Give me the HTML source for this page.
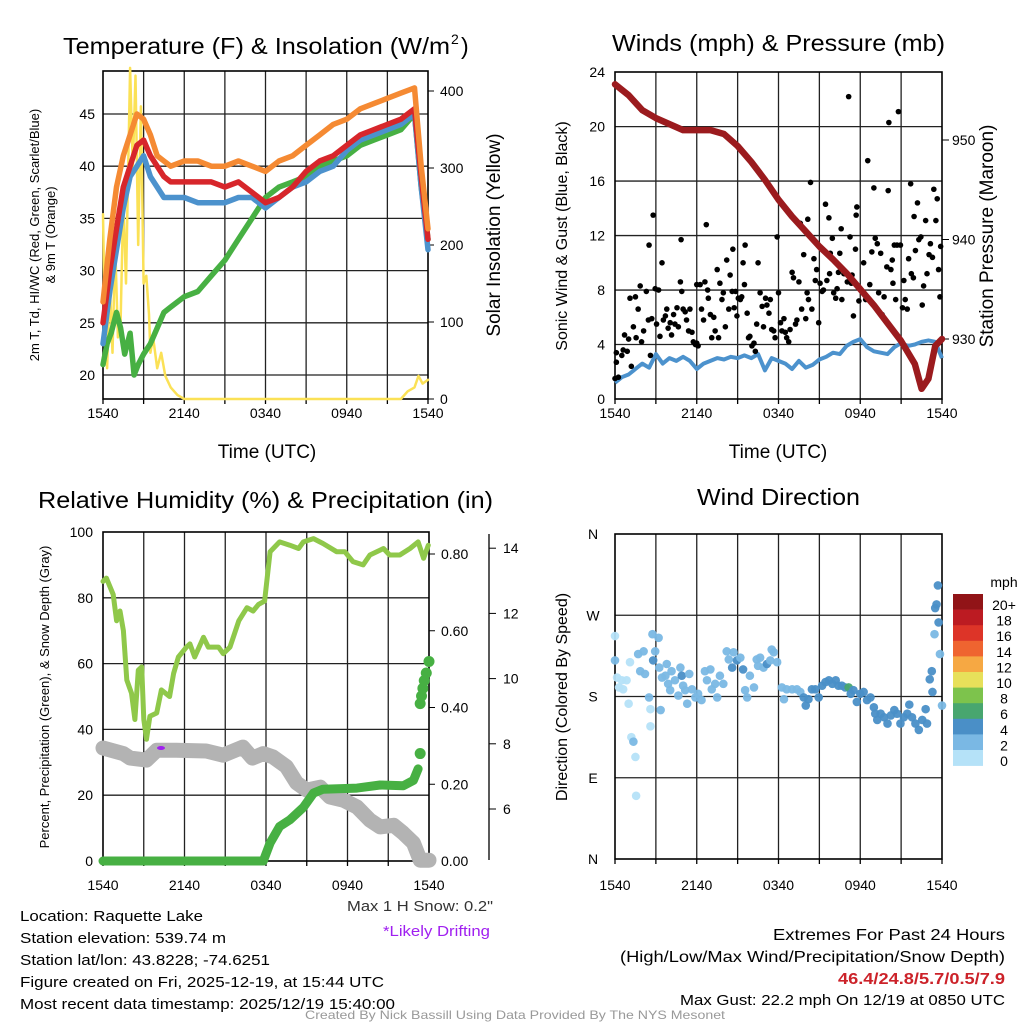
<!DOCTYPE html>
<html><head><meta charset="utf-8"><style>
html,body{margin:0;padding:0;background:#fff}
svg{display:block;font-family:"Liberation Sans",Arial,sans-serif}
</style></head><body>
<svg id="chart" width="1024" height="1024" viewBox="0 0 1024 1024" xmlns="http://www.w3.org/2000/svg"></svg>
<script>
// ---------- DATA ----------
const timeTickLabels = ["1540","2140","0340","0940","1540"];
const timeTickHours = [0,6,12,18,24];
// Panel 1: temperatures (F) & solar
const tempHours = [0,0.5,1,1.5,2,2.5,3,3.5,4,4.5,5,6,7,8,9,10,11,12,13,14,15,16,17,18,19,20,21,22,23,23.5,24];
const orangeT = [27,33,38,41,43,45,44.5,43,41,40.5,40,40.5,40.5,40,40,40.5,40,39.5,40.5,41,42,43,44,44.5,45.5,46,46.5,47,47.5,40,34];
const redT = [25,30,34,38,40,42,42.5,41,40,39,38.5,38.5,38.5,38.5,38,38.5,37.5,36.5,37,38,39.5,40.5,41,42,43,43.5,44,44.5,45.5,39,33];
const blueT = [23,28,32,36,39,40,41,39,38,37,37,37,36.5,36.5,36.5,37,37,36,37,38,38.5,39.5,40,41.5,42.5,43,43.5,44,45,38,32];
const dewHours = [0,0.3,0.6,1,1.3,1.6,2,2.3,2.6,3,3.5,4,4.5,5,6,7,8,9,10,11,11.5,12,13,14,15,16,17,18,19,20,21,22,23,23.5,24];
const dewT = [21,23,24,26,24.5,22,24,20,21,22,23,24.5,26,26.5,27.5,28,29.5,31,33,35,36,37,38,38.5,39,40,40.5,41,42,42.5,43,43.5,45,38,33];
const solarHours = [0,0.1,0.3,0.5,0.7,0.9,1.1,1.3,1.5,1.7,2,2.2,2.4,2.6,2.8,3,3.2,3.4,3.5,3.7,4,4.3,4.6,5,5.5,6,22,22.5,23,23.3,23.6,24];
const solarVals = [240,130,40,150,60,200,80,100,260,150,430,300,420,200,380,150,160,110,60,80,40,60,30,15,5,0,0,10,15,30,20,25];
const tempTicks = [20,25,30,35,40,45];
const solarTicks = [0,100,200,300,400];
// Panel 2: winds & pressure
const pressHours = [0,1,2,3,4,5,6,7,8,9,10,11,12,13,14,15,16,17,18,19,20,21,22,22.5,23,23.5,24];
const pressVals = [955.6,954.5,953,952.2,951.6,951,951,951,950.6,949.4,947.8,946,944,942.3,940.8,939.3,938,936.6,935,933.4,931.6,929.8,927.5,925,926,929.3,930];
const sonicHours = [0,0.5,1,1.5,2,2.5,3,3.5,4,4.5,5,5.5,6,6.5,7,7.5,8,8.5,9,9.5,10,10.5,11,11.5,12,12.5,13,13.5,14,14.5,15,15.5,16,16.5,17,17.5,18,18.5,19,19.5,20,20.5,21,21.5,22,22.5,23,23.5,24];
const sonicVals = [1.2,1.6,1.8,2.2,2.6,2.3,3.3,2.6,3.0,2.8,3.1,2.8,2.2,2.6,2.8,3.0,2.9,3.1,3.0,3.2,3.0,3.3,2.1,3.0,2.8,2.6,2.2,2.8,2.3,2.5,2.9,3.1,3.4,3.3,3.9,4.2,4.4,3.8,3.5,3.4,3.3,3.8,4.1,3.9,4.0,4.2,4.3,4.2,3.0];
const gustHours = [0,0.1,0.1,0.25,0.5,0.6,0.7,0.9,1,1.1,1.2,1.35,1.5,1.55,1.7,1.85,1.95,2.1,2.3,2.45,2.5,2.6,2.7,2.8,2.95,3.05,3.2,3.3,3.45,3.55,3.7,3.8,3.9,4.05,4.15,4.3,4.4,4.55,4.65,4.8,4.85,4.9,5,5.15,5.25,5.4,5.5,5.65,5.75,5.9,6,6.1,6,6.25,6.35,6.5,6.6,6.7,6.8,6.85,7,7.1,7.25,7.35,7.5,7.6,7.7,7.85,7.95,8.1,8.2,8.35,8.45,8.6,8.65,8.75,8.85,8.95,9.05,9.2,9.3,9.4,9.5,9.55,9.7,9.8,9.9,10.05,10.2,10.3,10.4,10.5,10.65,10.8,10.9,11.05,11.15,11.3,11.4,11.5,11.65,11.75,11.9,12,12.15,12.25,12.4,12.5,12.6,12.75,12.85,13,13.1,13.25,13.35,13.5,13.6,13.7,13.85,14,14.1,14.15,14.2,14.35,14.45,14.6,14.7,14.8,14.95,15.05,15.2,15.3,15.45,15.55,15.7,15.75,15.8,15.95,16.05,16.2,16.3,16.4,16.5,16.6,16.65,16.8,16.9,17.05,17.15,17.25,17.35,17.4,17.5,17.65,17.7,17.75,17.9,18,18.25,18.4,18.55,18.7,18.85,19,19.1,19.25,19.35,19.5,19.6,19.75,19.95,20.05,20.1,20.25,20.35,20.4,20.5,20.6,20.7,20.8,20.95,21.1,21.2,21.3,21.45,21.55,21.7,21.75,21.9,21.95,22.05,22.2,22.3,22.45,22.55,22.65,22.8,22.9,23.05,23.15,23.3,23.4,23.55,23.65,23.75,23.85,23.9];
const gustVals = [1.5,3.4,2.7,1.6,3.2,3.6,4.7,3.5,4.4,7.4,2.4,5.3,7.5,4.5,6.6,8.3,4.2,5,7.9,5.8,11.3,3.2,5.9,13.5,8.1,5.5,8,4.6,10,5.8,6.1,6.6,5.2,5.6,4.7,6.2,5.5,6.7,5.3,8.6,11.7,7.9,6.6,6.4,5.8,5,6.6,4.9,4.2,4,4.1,3.9,8.4,8.4,6.6,5.8,8.6,12.8,8,7.4,6.2,4.5,6,5,9.5,4.5,8.5,7.3,7.8,5.3,10.2,6.6,9.1,7.9,11,6.7,7.9,6.1,7.4,7.3,7.5,10,8.4,11.3,6.3,4.5,4.6,3.9,4.1,3.5,5.5,10,7.8,6.8,5.3,7.4,6.9,6.3,7.3,5.1,5,4.5,11.9,7.8,5.6,5,5.9,4.9,4.5,4.2,5.1,9.3,8.9,5.5,5.8,8.6,12.9,6.6,10.6,5.9,7.8,13.2,7.3,15.9,6.6,10.3,8.7,9.5,5.6,8.5,7.9,8,14.3,8.7,13.3,9.2,10.7,11.8,7.8,7.4,8.1,9.3,10.7,12.5,7.3,9.2,9.2,8.6,22.2,11.9,8.5,9.1,6.1,11,13.5,14.1,7.2,8.1,10,7.3,17.5,8.4,10.8,15.5,11.8,11.4,7.8,10.7,6.2,7.5,9.7,15.3,20.3,9.5,10.2,8.5,11.3,7.3,11.3,21.1,11.3,6.7,8.7,7.3,6.6,10.3,15.8,9.2,8.9,13.4,10.9,14.4,11.7,11.9,6.9,8.3,13.1,9.2,10.6,11.4,10.4,15.4,13.1,14.7,9.5,7.5,11.2];
const windTicks = [0,4,8,12,16,20,24];
const pressTicks = [930,940,950];
// Panel 3: RH, precip, snow depth
const rhHours = [0,0.25,0.75,1,1.25,1.5,1.75,2.1,2.35,2.6,2.85,3,3.2,3.45,3.95,4.3,4.9,5.2,5.55,6.15,6.4,6.75,7.4,7.75,8.5,8.85,9.35,10,10.6,11.05,11.45,11.9,12.3,13,13.75,14.4,14.75,15.5,16.2,17.2,17.8,18.4,19.15,19.65,20.65,21.1,21.85,22.6,23.2,23.6,23.95];
const rhVals = [85,86,81,73,76,70,55,51,43,58,59,43,37,44,45,52,50,57,62,65,66,62,68,65,65,63,65,73,77,76,78,79,94,97,96,95,97,98,96.5,94,94,91,90,93,95,93,93,95,97,92,96];
const precipHours = [0,11.8,12.3,13,13.75,14.75,15.5,16.2,18.7,20.4,22.1,22.85,23.2];
const precipVals = [0,0,0.047,0.09,0.107,0.14,0.177,0.187,0.19,0.198,0.196,0.21,0.24];
const precipDotHours = [23.35,23.35,23.45,23.55,23.65,23.8,24];
const precipDotVals = [0.28,0.41,0.43,0.45,0.47,0.49,0.52];
const snowHours = [0,1.5,2,3.2,3.95,5.4,7.6,8.85,10.3,11,11.8,12.5,13.5,14.25,15,16,16.7,17.7,18.7,19.65,20.4,21.4,22.1,22.85,23.35,24];
const snowVals = [7.87,7.7,7.56,7.5,7.8,7.8,7.78,7.65,7.9,7.56,7.7,7.6,7.3,6.8,6.58,6.67,6.37,6.27,6.06,5.66,5.45,5.5,5.26,4.96,4.43,4.43];
const rhTicks = [0,20,40,60,80,100];
const precipTicks = ["0.00","0.20","0.40","0.60","0.80"];
const snowTicks = [6,8,10,12,14];
// Panel 4: wind direction
const dirHours = [0,0,0.15,0.3,0.5,0.6,0.85,1,1.1,1.2,1.35,1.5,1.55,1.7,1.85,2.1,2.2,2.5,2.6,2.6,2.75,2.8,2.95,3.2,3.25,3.35,3.45,3.7,3.8,3.9,4.05,4.15,4.4,4.65,4.8,4.9,5,5.15,5.3,5.45,5.65,5.9,6.1,6.35,6.6,6.75,7,7.1,7.35,7.5,7.7,7.95,8.2,8.35,8.6,8.7,8.95,9.2,9.4,9.55,9.7,9.9,10.2,10.4,10.5,10.65,10.9,11.15,11.4,11.5,11.65,11.9,12.25,12.4,12.6,13,13.35,13.6,13.85,14,14.2,14.45,14.7,14.95,15.2,15.45,15.7,15.95,16.2,16.4,16.65,16.9,17.15,17.3,17.5,17.75,18,18.25,18.5,18.75,19,19.1,19.25,19.5,19.75,20,20.25,20.5,20.7,20.95,21.2,21.45,21.6,21.8,22.05,22.3,22.55,22.8,22.9,23.1,23.25,23.3,23.45,23.5,23.6,23.7,23.75,23.85,24];
const dirVals = [247,220,201,190,198,188,198,172,218,135,130,113,70,227,208,230,205,179,147,166,249,220,230,245,212,165,201,203,216,194,187,208,198,181,212,203,192,187,172,205,188,179,183,176,208,198,210,188,194,179,203,194,230,221,212,229,220,223,210,187,179,203,190,221,214,223,212,216,220,232,229,218,190,177,188,188,188,185,179,170,177,188,188,179,192,196,198,194,198,192,192,190,190,183,187,174,183,185,176,179,168,161,154,161,157,150,159,165,161,150,157,161,171,157,150,143,154,166,150,199,208,185,249,278,282,303,262,227,170];
const dirSpeeds = [1,3,1,1,1,1,1,1,1,1,3,1,1,3,3,3,3,3,1,1,3,5,3,3,3,3,3,3,3,3,3,3,3,3,3,5,3,3,3,3,3,3,3,3,3,3,3,3,3,3,3,3,3,3,5,3,5,3,5,3,3,3,3,3,3,3,3,5,3,3,3,3,3,3,3,3,3,3,5,5,5,5,5,5,5,5,5,5,5,5,5,5,7,5,5,5,5,5,5,5,5,5,5,5,5,5,5,5,5,5,5,5,5,5,5,5,5,5,5,5,5,5,3,5,5,5,5,3,3,5];
const dirTickLabels = ["N","E","S","W","N"];
const speedBins = ["0","2","4","6","8","10","12","14","16","18","20+"];
const speedColors = ["#b5e2f8","#7ab8e4","#4a8fc7","#48a66f","#7dc34c","#e7e05a","#f6a843","#ef6430","#dd3428","#bc1b22","#911417"];

// ---------- HELPERS ----------
const NS = "http://www.w3.org/2000/svg";
const svg = document.getElementById('chart');
function mk(tag, attrs, parent) {
  const e = document.createElementNS(NS, tag);
  for (const k in attrs) e.setAttribute(k, attrs[k]);
  (parent || svg).appendChild(e);
  return e;
}
function txt(str, x, y, size, opts, parent) {
  opts = opts || {};
  const e = mk('text', {x: x, y: y, 'font-size': size, fill: opts.fill || '#000', 'text-anchor': opts.anchor || 'start'}, parent);
  if (opts.weight) e.setAttribute('font-weight', opts.weight);
  if (opts.len) { e.setAttribute('textLength', opts.len); e.setAttribute('lengthAdjust', 'spacingAndGlyphs'); }
  if (opts.rot) e.setAttribute('transform', 'rotate(' + opts.rot + ' ' + x + ' ' + y + ')');
  e.textContent = str;
  return e;
}
function linePath(xs, ys, hours, vals) {
  return hours.map((h, i) => (i ? 'L' : 'M') + xs(h).toFixed(1) + ' ' + ys(vals[i]).toFixed(1)).join('');
}
function frame(x0, y0, x1, y1, hLines, name) {
  const g = mk('g', {});
  
  
  for (let i = 1; i < 8; i++) {
    const x = x0 + (x1 - x0) * i / 8;
    mk('line', {x1: x, y1: y0, x2: x, y2: y1, stroke: '#222', 'stroke-width': 1.3}, g);
  }
  hLines.forEach(y => mk('line', {x1: x0, y1: y, x2: x1, y2: y, stroke: '#222', 'stroke-width': 1.3}, g));
  mk('rect', {x: x0, y: y0, width: x1 - x0, height: y1 - y0, fill: 'none', stroke: '#000', 'stroke-width': 1.6}, g);
  for (let i = 0; i <= 8; i++) {
    const x = x0 + (x1 - x0) * i / 8;
    mk('line', {x1: x, y1: y1, x2: x, y2: y1 + 5, stroke: '#000', 'stroke-width': 1.3}, g);
  }
  return g;
}
function timeLabels(xs, y, name) {
  const g = mk('g', {});
  
  
  timeTickHours.forEach((h, i) => txt(timeTickLabels[i], xs(h), y, 14, {anchor: 'middle'}, g));
}

// ---------- PANEL 1 ----------
(function () {
  const X0 = 103, X1 = 428, Y0 = 71, Y1 = 399;
  const xs = h => X0 + h * (X1 - X0) / 24;
  const ys = v => 375 - (v - 20) * 10.44;
  const ss = s => 399 - s * 0.77;
  frame(X0, Y0, X1, Y1, tempTicks.map(ys), 'temperature-plot-frame');
  tempTicks.forEach(t => txt(String(t), X0 - 8, ys(t) + 5, 14, {anchor: 'end'}));
  solarTicks.forEach(t => { txt(String(t), X1 + 12, ss(t) + 5, 14); mk('line', {x1: X1, y1: ss(t), x2: X1 + 6, y2: ss(t), stroke: '#000'}); });
  const series = [[solarHours, solarVals, '#fbe156', 2.5, ss, 'solar-insolation-line'], [dewHours, dewT, '#47b043', 5.5, ys, 'dewpoint-line'], [tempHours, blueT, '#4c92cd', 5.5, ys, 'wind-chill-line'], [tempHours, redT, '#d7262b', 5.5, ys, 'temperature-2m-line'], [tempHours, orangeT, '#f58a33', 5.5, ys, 'temperature-9m-line']];
  series.forEach(s => {
    const p = mk('path', {d: linePath(xs, s[4], s[0], s[1]), fill: 'none', stroke: s[2], 'stroke-width': s[3], 'stroke-linejoin': 'round', 'stroke-linecap': 'round'});
    
    
  });
  timeLabels(xs, 418, 'temperature-x-ticks');
  const t = txt('Temperature (F) & Insolation (W/m', 63, 54, 23, {len: 387});
  
  
  txt('2', 451, 44, 14);
  txt(')', 461, 54, 23);
  const xt = txt('Time (UTC)', 267, 458, 19, {anchor: 'middle'});
  
  
  const yl = txt('2m T, Td, HI/WC (Red, Green, Scarlet/Blue)', 39, 235, 13, {anchor: 'middle', rot: -90});
  
  
  txt('& 9m T (Orange)', 55, 235, 13, {anchor: 'middle', rot: -90});
  const yr = txt('Solar Insolation (Yellow)', 500, 235, 19, {anchor: 'middle', rot: -90});
  
  
})();

// ---------- PANEL 2 ----------
(function () {
  const X0 = 615, X1 = 942, Y0 = 72, Y1 = 399;
  const xs = h => X0 + h * (X1 - X0) / 24;
  const ys = v => 399 - v * 13.62;
  const ps = p => 339 - (p - 930) * 9.95;
  frame(X0, Y0, X1, Y1, windTicks.slice(1, 6).map(ys), 'winds-plot-frame');
  windTicks.forEach(t => txt(String(t), X0 - 10, ys(t) + 5, 14, {anchor: 'end'}));
  pressTicks.forEach(t => { txt(String(t), X1 + 10, ps(t) + 5, 14); mk('line', {x1: X1, y1: ps(t), x2: X1 + 7, y2: ps(t), stroke: '#000'}); });
  const sw = mk('path', {d: linePath(xs, ys, sonicHours, sonicVals), fill: 'none', stroke: '#4c92cd', 'stroke-width': 4, 'stroke-linejoin': 'round'});
  
  
  const gg = mk('g', {});
  
  
  gustHours.forEach((h, i) => {
    const c = mk('circle', {cx: xs(h), cy: ys(gustVals[i]), r: 2.8, fill: '#000'}, gg);
    
  });
  const pl = mk('path', {d: linePath(xs, ps, pressHours, pressVals), fill: 'none', stroke: '#9b1b1e', 'stroke-width': 6.5, 'stroke-linejoin': 'round', 'stroke-linecap': 'round'});
  
  
  timeLabels(xs, 418, 'winds-x-ticks');
  const t = txt('Winds (mph) & Pressure (mb)', 612, 51, 23, {len: 333});
  
  
  const xt = txt('Time (UTC)', 778, 458, 19, {anchor: 'middle'});
  
  
  const yl = txt('Sonic Wind & Gust (Blue, Black)', 567, 236, 16, {anchor: 'middle', rot: -90});
  
  
  const yr = txt('Station Pressure (Maroon)', 993, 236, 19, {anchor: 'middle', rot: -90});
  
  
})();

// ---------- PANEL 3 ----------
(function () {
  const X0 = 103, X1 = 429, Y0 = 532, Y1 = 861;
  const xs = h => X0 + h * (X1 - X0) / 24;
  const ys = v => 861 - v * 3.29;
  const pr = p => 861 - p * 383.75;
  const sn = s => 809 - (s - 6) * 32.6;
  frame(X0, Y0, X1, Y1, rhTicks.slice(1, 5).map(ys), 'humidity-plot-frame');
  rhTicks.forEach(t => txt(String(t), X0 - 10, ys(t) + 5, 14, {anchor: 'end'}));
  precipTicks.forEach(t => { txt(t, X1 + 12, pr(+t) + 5, 14); mk('line', {x1: X1, y1: pr(+t), x2: X1 + 6, y2: pr(+t), stroke: '#000'}); });
  mk('line', {x1: 489, y1: 534, x2: 489, y2: 860, stroke: '#000', 'stroke-width': 1.3});
  snowTicks.forEach(t => { txt(String(t), 503, sn(t) + 5, 14); mk('line', {x1: 489, y1: sn(t), x2: 496, y2: sn(t), stroke: '#000'}); });
  const sl = mk('path', {d: linePath(xs, sn, snowHours, snowVals), fill: 'none', stroke: '#b3b3b3', 'stroke-width': 15, 'stroke-linejoin': 'round', 'stroke-linecap': 'round'});
  
  
  const pd = mk('ellipse', {cx: 161, cy: 748, rx: 4, ry: 2, fill: '#a020f0'});
  
  
  const rl = mk('path', {d: linePath(xs, ys, rhHours, rhVals), fill: 'none', stroke: '#8fc84a', 'stroke-width': 5, 'stroke-linejoin': 'round', 'stroke-linecap': 'round'});
  
  
  const pl = mk('path', {d: linePath(xs, pr, precipHours, precipVals), fill: 'none', stroke: '#47b043', 'stroke-width': 9, 'stroke-linejoin': 'round', 'stroke-linecap': 'round'});
  
  
  precipDotHours.forEach((h, i) => {
    const c = mk('circle', {cx: xs(h), cy: pr(precipDotVals[i]), r: 5.5, fill: '#47b043'});
    
    
  });
  timeLabels(xs, 890, 'humidity-x-ticks');
  const t = txt('Relative Humidity (%) & Precipitation (in)', 38, 508, 23, {len: 455});
  
  
  const yl = txt('Percent, Precipitation (Green), & Snow Depth (Gray)', 49, 697, 13, {anchor: 'middle', rot: -90});
  
  
})();

// ---------- PANEL 4 ----------
(function () {
  const X0 = 615, X1 = 942, Y0 = 534, Y1 = 859;
  const xs = h => X0 + h * (X1 - X0) / 24;
  const ys = d => 859 - d / 360 * 325;
  frame(X0, Y0, X1, Y1, [90, 180, 270].map(ys), 'direction-plot-frame');
  dirTickLabels.forEach((l, i) => txt(l, X0 - 22, ys(i * 90) + 5, 14, {anchor: 'middle'}));
  const g = mk('g', {});
  
  
  dirHours.forEach((h, i) => {
    const bin = Math.min(10, Math.floor(dirSpeeds[i] / 2));
    const c = mk('circle', {cx: xs(h), cy: ys(dirVals[i]), r: 4.3, fill: speedColors[bin], 'fill-opacity': 0.95}, g);
    
  });
  timeLabels(xs, 890, 'direction-x-ticks');
  const t = txt('Wind Direction', 697, 505, 23, {len: 163});
  
  
  const yl = txt('Direction (Colored By Speed)', 567, 697, 16, {anchor: 'middle', rot: -90});
  
  
  const cb = mk('g', {});
  
  
  const cy0 = 594, ch = 15.6;
  speedBins.slice().reverse().forEach((l, i) => {
    mk('rect', {x: 953, y: cy0 + i * ch, width: 30, height: ch + 0.3, fill: speedColors[10 - i]}, cb);
    txt(l, 1004, cy0 + i * ch + 16, 14, {anchor: 'middle'}, cb);
  });
  txt('mph', 1004, 587, 14, {anchor: 'middle'}, cb);
})();

// ---------- FOOTER TEXT ----------
const info = ['Location: Raquette Lake', 'Station elevation: 539.74 m', 'Station lat/lon: 43.8228; -74.6251', 'Figure created on Fri, 2025-12-19, at 15:44 UTC', 'Most recent data timestamp: 2025/12/19 15:40:00'];
const infoLens = [183, 206, 250, 364, 375];
const infoG = mk('g', {});


info.forEach((s, i) => txt(s, 20, 921 + i * 22, 15, {len: infoLens[i]}, infoG));
const ms = txt('Max 1 H Snow: 0.2"', 347, 911, 15, {len: 146, fill: '#333'});


const ld = txt('*Likely Drifting', 383, 936, 15, {len: 107, fill: '#a020f0'});


const ext = mk('g', {});


txt('Extremes For Past 24 Hours', 773, 940, 16, {len: 232}, ext);
txt('(High/Low/Max Wind/Precipitation/Snow Depth)', 620, 962, 16, {len: 385}, ext);
txt('46.4/24.8/5.7/0.5/7.9', 838, 984, 16, {len: 167, fill: '#cc2229', weight: 'bold'}, ext);
txt('Max Gust: 22.2 mph On 12/19 at 0850 UTC', 680, 1005, 15, {len: 325}, ext);
const cr = txt('Created By Nick Bassill Using Data Provided By The NYS Mesonet', 305, 1019, 12, {len: 420, fill: '#999'});


</script>
</body></html>
